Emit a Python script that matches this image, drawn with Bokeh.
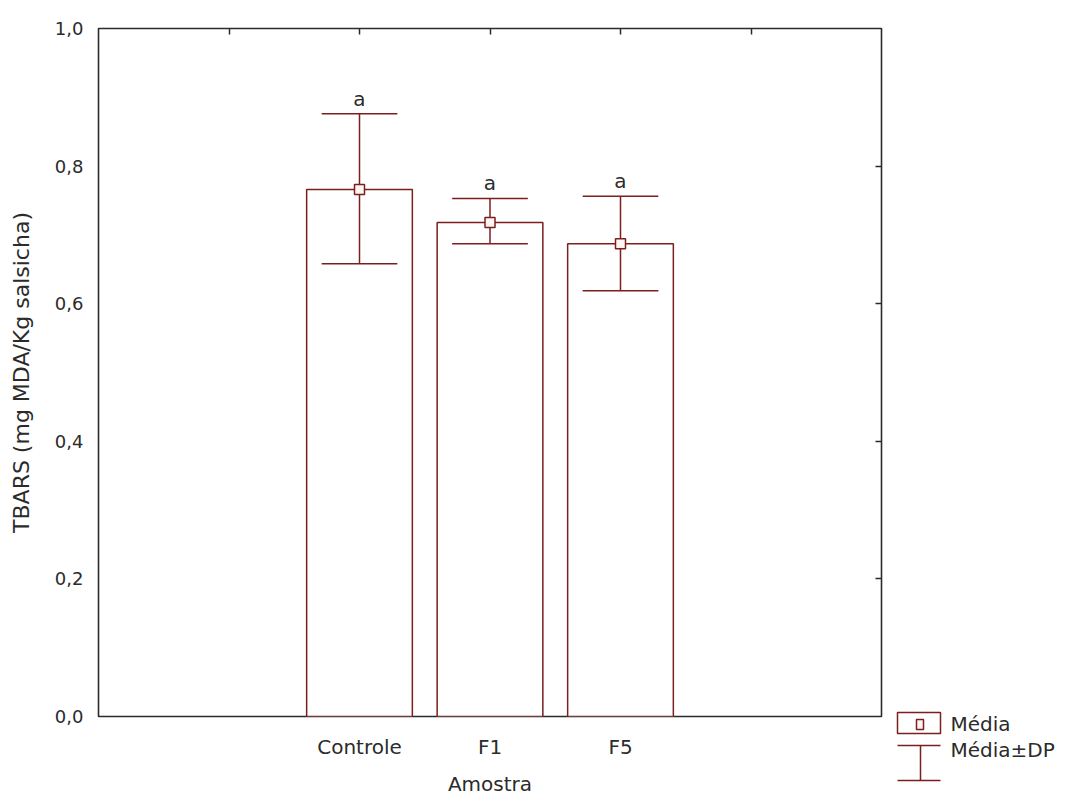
import numpy as np
from bokeh.plotting import figure
from bokeh.layouts import row, column
from bokeh.models import Range1d, LinearAxis, FixedTicker, ColumnDataSource, Spacer
from bokeh.core.properties import value
from bokeh.embed import file_html
from bokeh.resources import INLINE

# ---- data ----
categories = ["Controle", "F1", "F5"]
means = [0.766, 0.718, 0.687]
upper = [0.876, 0.753, 0.756]
lower = [0.658, 0.687, 0.619]
letters = ["a", "a", "a"]
y_ticks = [0.0, 0.2, 0.4, 0.6, 0.8, 1.0]
y_tick_labels = ["0,0", "0,2", "0,4", "0,6", "0,8", "1,0"]
legend_labels = ["Média", "Média±DP"]

FONT = "DejaVu Sans"
FS = "20px"
FS_NUM = "18px"
FS_YLAB = "22px"
MAROON = "#7a1e1e"
AX = "#2b2b2b"
TXT = "#2b2b2b"

xs = np.arange(len(categories))
bar_w = 0.81
cap_hw = 0.29

src = ColumnDataSource(dict(x=xs, mean=means, up=upper, lo=lower, let=letters,
                            cl=xs - cap_hw, cr=xs + cap_hw))

p = figure(frame_width=783, frame_height=688,
           min_border_left=98, min_border_right=10, min_border_top=28, min_border_bottom=82,
           x_range=Range1d(-2, 4), y_range=Range1d(0, 1),
           output_backend="svg", toolbar_location=None, background_fill_color="white",
           border_fill_color="white")
p.grid.visible = False
p.outline_line_color = AX
p.outline_line_width = 1.6
p.outline_line_alpha = 1.0

# bars
p.vbar(x="x", top="mean", bottom=0, width=bar_w, source=src, fill_color="white",
       line_color=MAROON, line_width=1.5)
# error bars
p.segment(x0="x", y0="lo", x1="x", y1="up", source=src, line_color=MAROON, line_width=1.5)
p.segment(x0="cl", y0="up", x1="cr", y1="up", source=src, line_color=MAROON, line_width=1.5)
p.segment(x0="cl", y0="lo", x1="cr", y1="lo", source=src, line_color=MAROON, line_width=1.5)
# mean markers
p.scatter(x="x", y="mean", source=src, marker="square", size=10, fill_color="#fff6f4",
          line_color=MAROON, line_width=1.5)
# letters
p.text(x="x", y="up", text="let", source=src, text_align="center", text_baseline="bottom",
       y_offset=-3, text_font=value(FONT), text_font_size=FS, text_color=TXT)

# axes
xa = p.xaxis[0]
xa.ticker = FixedTicker(ticks=list(xs))
xa.major_label_overrides = {int(i): c for i, c in zip(xs, categories)}
xa.axis_label = "Amostra"
ya = p.yaxis[0]
ya.ticker = FixedTicker(ticks=y_ticks)
ya.major_label_overrides = {t: l for t, l in zip(y_ticks, y_tick_labels)}
ya.axis_label = "TBARS (mg MDA/Kg salsicha)"
for a in (xa, ya):
    a.axis_line_color = None
    a.major_tick_line_color = None
    a.minor_tick_line_color = None
    a.major_label_text_font = FONT
    a.major_label_text_font_size = FS
    a.major_label_text_color = TXT
    a.axis_label_text_font = FONT
    a.axis_label_text_font_size = FS
    a.axis_label_text_font_style = "normal"
    a.axis_label_text_color = TXT
ya.major_label_text_font_size = FS_NUM
ya.axis_label_text_font_size = FS_YLAB
xa.major_label_standoff = 12
xa.axis_label_standoff = 10
ya.major_label_standoff = 9
ya.axis_label_standoff = 18

top = LinearAxis(ticker=FixedTicker(ticks=[-1, 0, 1, 2, 3]), axis_line_color=None,
                 major_tick_in=6, major_tick_out=0, major_tick_line_color=AX,
                 major_tick_line_width=1.5, minor_tick_line_color=None,
                 major_label_text_color=None, major_label_text_font_size="2px")
p.add_layout(top, "above")
right = LinearAxis(ticker=FixedTicker(ticks=[0.2, 0.4, 0.6, 0.8]), axis_line_color=None,
                   major_tick_in=6, major_tick_out=0, major_tick_line_color=AX,
                   major_tick_line_width=1.5, minor_tick_line_color=None,
                   major_label_text_color=None, major_label_text_font_size="2px")
p.add_layout(right, "right")

# ---- legend panel (small figure at bottom right; local pixel coordinates) ----
LW = 174
LH = 92
lg = figure(width=LW, height=LH, x_range=Range1d(0, LW), y_range=Range1d(LH, 0),
            min_border=0, output_backend="svg", toolbar_location=None,
            outline_line_color=None, background_fill_color="white", border_fill_color="white")
lg.axis.visible = False
lg.grid.visible = False
# key 1: box with mean marker
lg.quad(left=[6], right=[49], top=[6], bottom=[27], fill_color="white",
        line_color=MAROON, line_width=1.5)
lg.quad(left=[25], right=[32], top=[13], bottom=[23], fill_color="#fff6f4",
        line_color=MAROON, line_width=1.5)
# key 2: whisker
lg.segment(x0=[6, 29, 6], y0=[39, 39, 74], x1=[49, 29, 49], y1=[39, 74, 74],
           line_color=MAROON, line_width=1.5)
lg.text(x=[59, 59], y=[17, 43], text=legend_labels, text_baseline="middle",
        text_font=value(FONT), text_font_size=FS, text_color=TXT)

layout = row(p, column(Spacer(width=LW, height=798 - LH), lg))
open("out.html", "w").write(file_html(layout, INLINE))
